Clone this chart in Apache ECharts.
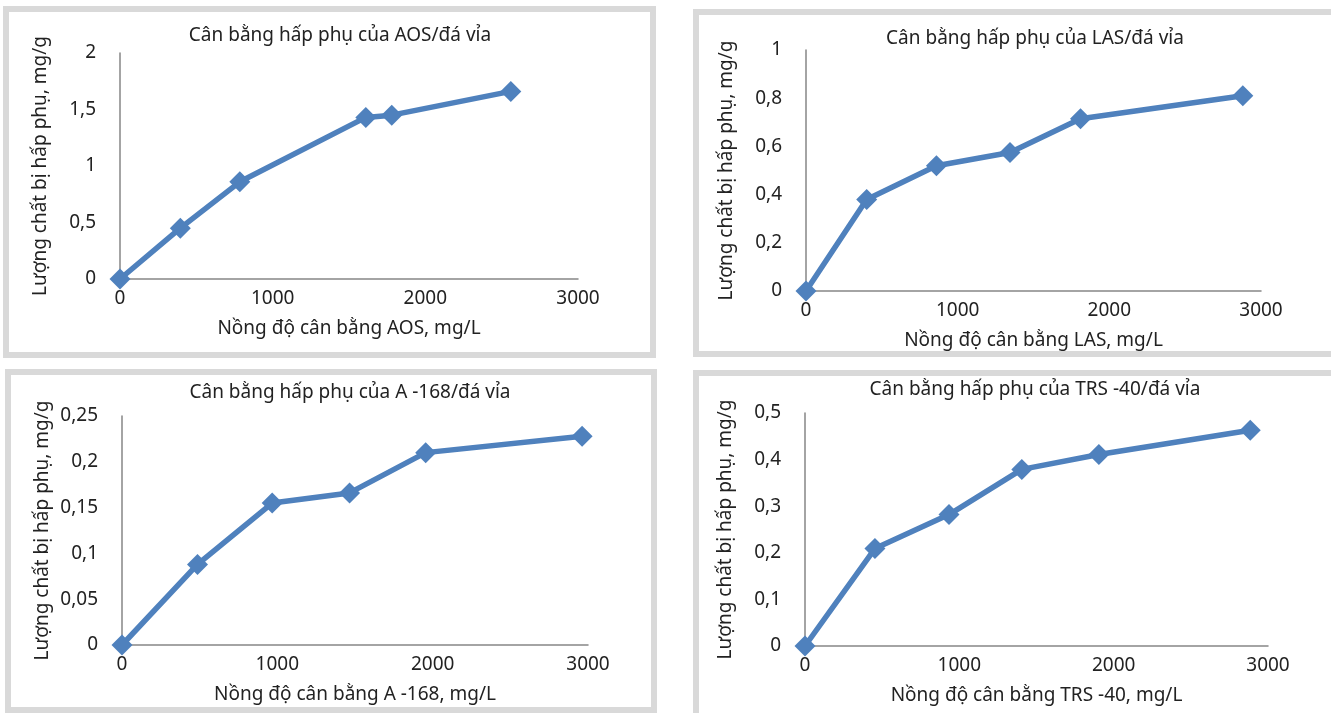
<!DOCTYPE html>
<html>
<head>
<meta charset="utf-8">
<script src="https://cdn.jsdelivr.net/npm/echarts@6/dist/echarts.min.js"></script>
<style>
	html, body { margin: 0; padding: 0; background: #fff; }
	#main { width: 1331px; height: 713px; }
</style>
</head>
<body>
<div id="main"></div>
<script>
// du lieu doc tu hinh
var aosX = [0, 395, 785, 1610, 1780, 2560];
var aosY = [0, 0.45, 0.86, 1.43, 1.45, 1.66];
var lasX = [0, 400, 860, 1345, 1810, 2880];
var lasY = [0, 0.38, 0.52, 0.575, 0.715, 0.81];
var a168X = [0, 486, 967, 1465, 1955, 2962];
var a168Y = [0, 0.088, 0.155, 0.166, 0.21, 0.228];
var trsX = [0, 453, 933, 1405, 1904, 2885];
var trsY = [0, 0.209, 0.282, 0.379, 0.411, 0.463];

var titles = ['Cân bằng hấp phụ của AOS/đá vỉa', 'Cân bằng hấp phụ của LAS/đá vỉa',
	'Cân bằng hấp phụ của A -168/đá vỉa', 'Cân bằng hấp phụ của TRS -40/đá vỉa'];
var xNames = ['Nồng độ cân bằng AOS, mg/L', 'Nồng độ cân bằng LAS, mg/L',
	'Nồng độ cân bằng A -168, mg/L', 'Nồng độ cân bằng TRS -40, mg/L'];
var yName = 'Lượng chất bị hấp phụ, mg/g';
var yMax = [2, 1, 0.25, 0.5];
var yStep = [0.5, 0.2, 0.05, 0.1];

var FONT = 'Noto Sans';
var TXT = '#222';
var AXC = '#868686';
var BLUE = '#4f81bd';

function pairs(xs, ys) {
	var out = [];
	for (var i = 0; i < xs.length; i++) out.push([xs[i], ys[i]]);
	return out;
}

var grids = [
	{ left: 120, right: 753, top: 53, bottom: 434 },
	{ left: 806, right: 70, top: 50, bottom: 422 },
	{ left: 122, right: 743, top: 416, bottom: 68 },
	{ left: 805, right: 63, top: 413, bottom: 67 }
];
var titlePos = [[335, 21], [1030, 24], [345, 378], [1030, 375]];
var seriesData = [pairs(aosX, aosY), pairs(lasX, lasY), pairs(a168X, a168Y), pairs(trsX, trsY)];

var xAxes = [], yAxes = [], series = [], titleArr = [];
for (var k = 0; k < 4; k++) {
	titleArr.push({
		text: titles[k],
		left: titlePos[k][0],
		top: titlePos[k][1],
		textAlign: 'center',
		textStyle: { fontFamily: FONT, fontSize: 19, fontWeight: 'normal', color: TXT }
	});
	xAxes.push({
		gridIndex: k,
		type: 'value',
		min: 0, max: 3000, interval: 1000,
		name: xNames[k],
		nameLocation: 'middle',
		nameGap: 40,
		nameTextStyle: { fontFamily: FONT, fontSize: 19, color: TXT },
		axisLine: { onZero: false, lineStyle: { color: AXC, width: 1.5 } },
		axisTick: { show: false },
		splitLine: { show: false },
		axisLabel: {
			fontFamily: FONT, fontSize: 19, color: TXT, margin: 10,
			formatter: function (v) { return String(v); }
		}
	});
	yAxes.push({
		gridIndex: k,
		type: 'value',
		min: 0, max: yMax[k], interval: yStep[k],
		name: yName,
		nameLocation: 'middle',
		nameGap: 70,
		nameTextStyle: { fontFamily: FONT, fontSize: 19, color: TXT },
		axisLine: { show: true, lineStyle: { color: AXC, width: 1.5 } },
		axisTick: { show: false },
		splitLine: { show: false },
		axisLabel: {
			fontFamily: FONT, fontSize: 19, color: TXT, margin: 24,
			formatter: function (v) { return String(v).replace('.', ','); }
		}
	});
	series.push({
		type: 'line',
		xAxisIndex: k,
		yAxisIndex: k,
		data: seriesData[k],
		symbol: 'diamond',
		symbolSize: 21,
		showAllSymbol: true,
		itemStyle: { color: BLUE },
		lineStyle: { color: BLUE, width: 5.5 },
		z: 3
	});
}

// khung xam quanh moi bieu do
var boxes = [
	[6, 9, 647, 346],
	[696, 12, 660, 342],
	[8, 372, 646, 338],
	[696, 373, 660, 345]
];
var graphics = boxes.map(function (b) {
	return {
		type: 'rect',
		shape: { x: b[0], y: b[1], width: b[2], height: b[3] },
		style: { fill: 'none', stroke: '#d9d9d9', lineWidth: 6 },
		z: -1
	};
});

var chart = echarts.init(document.getElementById('main'));
chart.setOption({
	animation: false,
	backgroundColor: '#fff',
	title: titleArr,
	grid: grids,
	xAxis: xAxes,
	yAxis: yAxes,
	series: series,
	graphic: graphics
});
</script>
</body>
</html>
